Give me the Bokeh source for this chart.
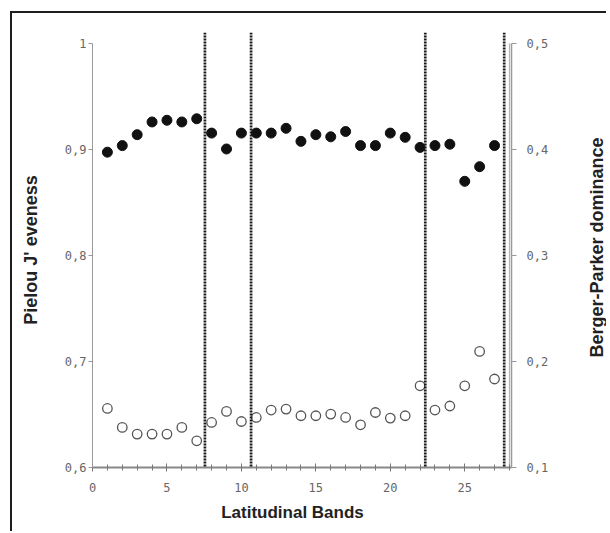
import math
from bokeh.plotting import figure
from bokeh.models import (Range1d, LinearAxis, FixedTicker, SingleIntervalTicker,
                          Span, ColumnDataSource, Label)
from bokeh.embed import file_html
from bokeh.resources import INLINE

# ---- data ----
bands = list(range(1, 28))
pielou = [0.8975, 0.9037, 0.914, 0.926, 0.9276, 0.926, 0.929, 0.9155, 0.9005,
          0.9155, 0.9155, 0.9155, 0.920, 0.9077, 0.914, 0.912, 0.917, 0.9037,
          0.9037, 0.9155, 0.9115, 0.902, 0.9037, 0.905, 0.870, 0.8838, 0.9037]
berger = [0.1557, 0.1378, 0.1315, 0.1315, 0.1315, 0.1378, 0.1252, 0.1425, 0.1529,
          0.1434, 0.1472, 0.1542, 0.1551, 0.1488, 0.1488, 0.1504, 0.1472, 0.1403,
          0.1519, 0.1466, 0.1488, 0.1771, 0.1542, 0.158, 0.1771, 0.2095, 0.1835]
boundaries = [7.55, 10.65, 22.35, 27.65]

left_ticks = [0.6, 0.7, 0.8, 0.9, 1.0]
left_labels = ["0,6", "0,7", "0,8", "0,9", "1"]
right_ticks = [0.1, 0.2, 0.3, 0.4, 0.5]
right_labels = ["0,1", "0,2", "0,3", "0,4", "0,5"]

TICK_FONT = "DejaVu Sans Mono"
LABEL_FONT = "Liberation Sans"

p = figure(width=596, height=520, output_backend="svg", toolbar_location=None,
           x_range=Range1d(0, 28.14), y_range=Range1d(0.6, 1.0104),
           min_border_left=80, min_border_right=97, min_border_top=19,
           min_border_bottom=66, background_fill_color="white",
           border_fill_color="white")
p.styles = {"border-left": "2px solid #1e1e1e", "border-top": "2px solid #1e1e1e",
            "margin-left": "10px", "margin-top": "11px"}
p.outline_line_color = None
p.grid.visible = False
p.extra_y_ranges = {"bp": Range1d(0.1, 0.5104)}

# x axis
xa = p.xaxis[0]
xa.ticker = SingleIntervalTicker(interval=5, num_minor_ticks=5)
xa.axis_line_color = "#888888"
xa.axis_line_width = 2
xa.major_tick_in = 4
xa.major_tick_out = 4
xa.minor_tick_in = 3
xa.minor_tick_out = 3
xa.major_tick_line_color = "#777777"
xa.minor_tick_line_color = "#777777"
xa.major_label_text_font = TICK_FONT
xa.major_label_text_font_size = "12px"
xa.major_label_text_color = "#666666"
xa.major_label_standoff = 11

# left axis
ya = p.yaxis[0]
ya.ticker = FixedTicker(ticks=left_ticks)
ya.major_label_overrides = {t: s for t, s in zip(left_ticks, left_labels)}
ya.bounds = (0.6, 1.0)
ya.axis_label = "Pielou J' eveness"
ya.axis_label_text_font = LABEL_FONT
ya.axis_label_text_font_style = "bold"
ya.axis_label_text_font_size = "18px"
ya.axis_label_text_color = "#222222"
ya.axis_label_standoff = 21
ya.axis_line_color = "#999999"
ya.axis_line_width = 1
ya.major_tick_in = 0
ya.major_tick_out = 4
ya.minor_tick_line_color = None
ya.major_tick_line_color = "#999999"
ya.major_label_text_font = TICK_FONT
ya.major_label_text_font_size = "12px"
ya.major_label_text_color = "#666666"
ya.major_label_standoff = 2

# right axis
ra = LinearAxis(y_range_name="bp")
ra.ticker = FixedTicker(ticks=right_ticks)
ra.major_label_overrides = {t: s for t, s in zip(right_ticks, right_labels)}
ra.bounds = (0.1, 0.5)
ra.axis_line_color = "#999999"
ra.axis_line_width = 1.5
ra.major_tick_in = 0
ra.major_tick_out = 5
ra.minor_tick_line_color = None
ra.major_tick_line_color = "#999999"
ra.major_label_text_font = TICK_FONT
ra.major_label_text_font_size = "12px"
ra.major_label_text_color = "#666666"
ra.major_label_standoff = 10
p.add_layout(ra, "right")

# right axis title (reads bottom to top), placed in the right side panel
p.add_layout(Label(x=33.85, y=0.8075,
                   text="Berger-Parker dominance", angle=math.pi / 2,
                   text_align="center", text_baseline="middle",
                   text_font=LABEL_FONT, text_font_style="bold",
                   text_font_size="18px", text_color="#222222"), "right")

# x axis title, placed in the bottom side panel
p.add_layout(Label(x=13.43, y=0.5575,
                   text="Latitudinal Bands",
                   text_align="center", text_baseline="middle",
                   text_font=LABEL_FONT, text_font_style="bold",
                   text_font_size="17px", text_color="#222222"), "below")

# inner line of the double right axis
p.segment(x0=[28.0], y0=[0.6], x1=[28.0], y1=[1.0], line_color="#aaaaaa", line_width=1)

# dotted boundaries
for b in boundaries:
    p.add_layout(Span(location=b, dimension="height", line_color="#1a1a1a",
                      line_width=2.7, line_dash="2 1"))

src = ColumnDataSource(dict(x=bands, pielou=pielou, berger=berger))
p.scatter("x", "berger", source=src, y_range_name="bp", size=9.5,
          fill_color="white", line_color="#555555", line_width=1.3)
p.scatter("x", "pielou", source=src, size=10, fill_color="#111111",
          line_color="#111111")

open("out.html", "w").write(file_html(p, INLINE))
